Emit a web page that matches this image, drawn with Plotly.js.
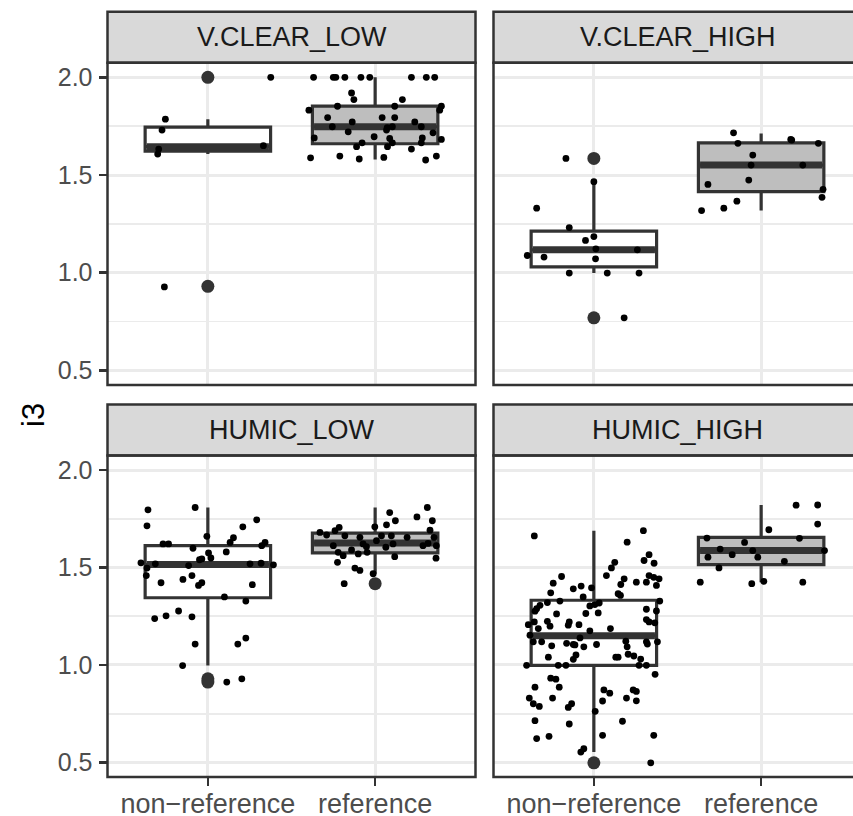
<!DOCTYPE html>
<html>
<head>
<meta charset="utf-8">
<script src="https://cdn.plot.ly/plotly-3.0.1.min.js"></script>
<style>html,body{margin:0;padding:0;background:#fff;}#chart{width:853px;height:816px;}</style>
</head>
<body>
<div id="chart"></div>
<script>
// ---------------- DATA ----------------
const categories = ['non\u2212reference', 'reference'];
const panelNames = ['V.CLEAR_LOW', 'V.CLEAR_HIGH', 'HUMIC_LOW', 'HUMIC_HIGH'];
const yTickVals = [0.5, 1.0, 1.5, 2.0];
const yTickText = ['0.5', '1.0', '1.5', '2.0'];

// box statistics per panel: [non-reference, reference]
const q1Vals     = [[1.622, 1.660], [1.030, 1.415], [1.345, 1.575], [0.998, 1.515]];
const medianVals = [[1.645, 1.747], [1.117, 1.551], [1.515, 1.626], [1.150, 1.587]];
const q3Vals     = [[1.745, 1.853], [1.213, 1.665], [1.612, 1.677], [1.332, 1.655]];
const lowVals    = [[1.607, 1.580], [0.998, 1.318], [0.997, 1.468], [0.553, 1.425]];
const highVals   = [[1.786, 2.000], [1.466, 1.713], [1.808, 1.808], [1.689, 1.821]];
const outlierVals = [[[2.0, 0.93], []], [[1.585, 0.769], []], [[0.929, 0.912], [1.417]], [[0.498], []]];

// jittered observations: values and horizontal jitter offsets
const vclLowNonY = [1.786, 1.73, 1.633, 1.607, 1.65, 2.0, 0.927];
const vclLowNonJ = [-0.254, -0.274, -0.294, -0.30, 0.332, 0.376, -0.26];
const vclLowRefY = [2.0,2.0,2.0,2.0,2.0,2.0,2.0,2.0,2.0,1.92,1.886,1.886,1.852,1.852,1.852,1.832,1.832,1.794,1.794,1.794,1.772,1.772,1.747,1.742,1.747,1.747,1.721,1.73,1.716,1.69,1.696,1.687,1.69,1.682,1.665,1.665,1.665,1.645,1.645,1.633,1.588,1.597,1.582,1.59,1.577,1.597];
const vclLowRefJ = [-0.368,-0.250,-0.235,-0.181,-0.085,-0.032,0.217,0.306,0.356,-0.141,-0.127,0.163,-0.225,0.117,0.396,-0.396,0.386,-0.284,0.042,0.117,-0.137,0.237,-0.256,0.072,0.103,0.276,-0.161,0.068,0.346,-0.364,-0.006,0.087,0.282,0.396,0.103,0.276,-0.078,-0.111,0.074,0.217,-0.386,-0.211,-0.095,0.052,0.302,0.366];

const vclHighNonY = [1.585,1.466,1.33,1.231,1.185,1.165,1.122,1.117,1.088,1.08,1.071,0.998,0.998,0.998,0.769];
const vclHighNonJ = [-0.167,0,-0.342,-0.147,0,-0.05,0.012,0.26,-0.398,-0.298,0.01,-0.147,0.08,0.27,0.181];
const vclHighRefY = [1.716,1.662,1.679,1.682,1.662,1.602,1.551,1.551,1.452,1.474,1.427,1.386,1.366,1.33,1.318];
const vclHighRefJ = [-0.165,-0.139,0.183,0.177,0.342,-0.05,-0.06,0.249,-0.318,-0.074,0.37,0.364,-0.145,-0.223,-0.356];

const humLowNonY = [1.796,1.808,1.714,1.745,1.709,1.66,1.653,1.629,1.621,1.621,1.629,1.612,1.599,1.58,1.575,1.544,1.54,1.549,1.524,1.519,1.51,1.519,1.522,1.514,1.497,1.459,1.459,1.439,1.422,1.422,1.408,1.412,1.349,1.328,1.238,1.252,1.277,1.247,1.107,1.107,1.138,0.997,0.912,0.929];
const humLowNonJ = [-0.358,-0.076,-0.364,0.292,0.209,-0.006,0.153,0.133,-0.268,-0.235,0.342,0.322,-0.089,0.11,0.004,-0.036,-0.05,0.018,-0.4,-0.314,-0.115,0.252,0.318,0.392,-0.364,-0.368,-0.095,-0.149,-0.28,-0.036,-0.056,0.266,0.099,0.227,-0.318,-0.25,-0.175,-0.095,-0.076,0.179,0.227,-0.151,0.113,0.203];
const humLowRefY = [1.808,1.782,1.76,1.74,1.74,1.719,1.709,1.706,1.689,1.692,1.68,1.667,1.663,1.655,1.663,1.663,1.655,1.655,1.612,1.59,1.621,1.607,1.638,1.604,1.621,1.612,1.624,1.612,1.578,1.561,1.57,1.578,1.556,1.548,1.527,1.497,1.485,1.468,1.417];
const humLowRefJ = [0.312,0.087,0.25,0.342,0.121,0.068,-0.002,-0.215,-0.24,0.328,-0.33,-0.29,-0.181,-0.091,0.038,0.097,0.191,0.352,-0.25,-0.141,-0.072,-0.052,0.008,0.064,0.107,0.286,0.316,0.366,-0.221,-0.191,-0.101,-0.048,0.117,0.364,-0.225,-0.121,-0.091,-0.012,-0.185];

const humHighNonY = [1.662,1.689,1.63,1.566,1.536,1.522,1.527,1.498,1.459,1.454,1.42,1.391,1.405,1.396,1.442,1.413,1.425,1.425,1.459,1.45,1.442,1.408,1.37,1.349,1.366,1.357,1.328,1.32,1.328,1.318,1.303,1.31,1.306,1.289,1.276,1.262,1.264,1.267,1.286,1.277,1.233,1.221,1.216,1.224,1.207,1.221,1.199,1.221,1.204,1.207,1.187,1.175,1.187,1.139,1.153,1.119,1.119,1.111,1.105,1.105,1.122,1.119,1.119,1.098,1.103,1.093,1.093,1.107,1.04,1.051,1.029,1.04,1.04,1.055,1.046,1.03,0.998,0.998,0.998,0.998,0.998,0.952,0.932,0.927,0.886,0.886,0.872,0.855,0.872,0.864,0.83,0.83,0.83,0.816,0.815,0.801,0.787,0.801,0.782,0.762,0.714,0.697,0.711,0.622,0.634,0.639,0.639,0.57,0.553,0.498];
const humHighNonJ = [-0.356,0.296,0.199,0.33,0.3,0.36,0.125,0.105,0.075,-0.193,-0.243,-0.123,-0.076,-0.014,0.181,0.161,0.254,0.314,0.33,0.358,0.39,0.374,-0.258,-0.064,0.145,0.159,-0.203,-0.278,0.394,0.032,-0.024,0.006,-0.322,-0.342,-0.352,-0.223,-0.048,0.026,0.314,0.374,0.314,0.33,0.364,-0.278,-0.392,-0.356,-0.262,-0.147,-0.153,-0.089,-0.332,-0.024,0.099,-0.083,-0.382,-0.362,-0.312,-0.163,-0.123,0.016,0.191,0.314,0.38,-0.252,-0.113,-0.06,0.199,0.32,-0.272,-0.107,-0.123,0.131,0.145,0.205,0.239,0.28,-0.402,-0.213,-0.167,0.27,0.314,0.366,-0.258,-0.227,-0.207,-0.352,0.06,0.095,0.235,0.254,-0.386,-0.247,0.195,0.254,0.052,-0.362,-0.326,-0.133,-0.153,0.008,-0.352,-0.147,0.171,-0.342,-0.268,0.052,0.358,-0.06,-0.078,0.34];
const humHighRefY = [1.82,1.821,1.723,1.694,1.65,1.651,1.629,1.595,1.566,1.587,1.587,1.553,1.553,1.532,1.498,1.425,1.417,1.429,1.425];
const humHighRefJ = [0.209,0.338,0.338,0.046,0.229,-0.324,-0.099,-0.245,-0.173,-0.05,0.379,-0.318,-0.02,0.139,-0.252,-0.364,-0.056,0.016,0.249];

const pointY = [[vclLowNonY, vclLowRefY], [vclHighNonY, vclHighRefY], [humLowNonY, humLowRefY], [humHighNonY, humHighRefY]];
const pointJ = [[vclLowNonJ, vclLowRefJ], [vclHighNonJ, vclHighRefJ], [humLowNonJ, humLowRefJ], [humHighNonJ, humHighRefJ]];

// ---------------- STYLE / LAYOUT ----------------
const W = 853, H = 816;
const boxWidth = 0.75;
const boxFill = ['#FFFFFF', '#BEBEBE'];
const ink = '#333333';
const gridCol = '#EBEBEB';
const FONT = 'Liberation Sans, Arial, sans-serif';

const leftPx = [107.5, 475.5], rightStart = 493.5;
const topPx = [62.7, 385], botPx = [455.5, 777];
const stripH = 51;
const pxPerUnit = (leftPx[1] - leftPx[0]) / 2.2;
const rightRangeMax = 0.4 + (W - rightStart) / pxPerUnit;

const xDomL = [leftPx[0] / W, leftPx[1] / W];
const xDomR = [rightStart / W, 1];
const yDomT = [(H - topPx[1]) / H, (H - topPx[0]) / H];
const yDomB = [(H - botPx[1]) / H, (H - botPx[0]) / H];

const axisIds = [['x', 'y'], ['x2', 'y2'], ['x3', 'y3'], ['x4', 'y4']];
const traces = [];

for (let p = 0; p < 4; p++) {
  const [xa, ya] = axisIds[p];
  for (let c = 0; c < 2; c++) {
    const pos = c + 1;
    traces.push({
      type: 'box', xaxis: xa, yaxis: ya,
      x: [pos], q1: [q1Vals[p][c]], median: [medianVals[p][c]], q3: [q3Vals[p][c]],
      lowerfence: [lowVals[p][c]], upperfence: [highVals[p][c]],
      width: boxWidth, whiskerwidth: 0, boxpoints: false,
      fillcolor: boxFill[c], line: { color: ink, width: 3.2 },
      hoverinfo: 'skip'
    });
    traces.push({
      type: 'scatter', mode: 'lines', xaxis: xa, yaxis: ya,
      x: [pos - boxWidth / 2 + 0.01, pos + boxWidth / 2 - 0.01],
      y: [medianVals[p][c], medianVals[p][c]],
      line: { color: ink, width: 7 }, hoverinfo: 'skip'
    });
    if (outlierVals[p][c].length) {
      traces.push({
        type: 'scatter', mode: 'markers', xaxis: xa, yaxis: ya,
        x: outlierVals[p][c].map(() => pos), y: outlierVals[p][c],
        marker: { color: ink, size: 13 }, hoverinfo: 'skip'
      });
    }
    traces.push({
      type: 'scatter', mode: 'markers', xaxis: xa, yaxis: ya,
      x: pointJ[p][c].map(j => pos + j), y: pointY[p][c],
      marker: { color: '#000000', size: 6.8 }, hoverinfo: 'skip'
    });
  }
}

function xAxis(domain, anchor, range, showLabels) {
  return {
    domain: domain, anchor: anchor, range: range, type: 'linear',
    tickvals: [1, 2], ticktext: categories, showticklabels: showLabels,
    ticks: showLabels ? 'outside' : '', ticklen: 8, tickwidth: 2.5, tickcolor: ink,
    ticklabelstandoff: -5,
    tickfont: { family: FONT, size: 27, color: '#4D4D4D' },
    showgrid: true, gridcolor: gridCol, gridwidth: 3,
    zeroline: false, showline: false, fixedrange: true
  };
}
function yAxis(domain, anchor, showLabels) {
  return {
    domain: domain, anchor: anchor, range: [0.425, 2.075],
    tickvals: yTickVals, ticktext: yTickText, showticklabels: showLabels,
    ticks: showLabels ? 'outside' : '', ticklen: 8, tickwidth: 2.5, tickcolor: ink,
    ticklabelstandoff: 1,
    tickfont: { family: FONT, size: 25, color: '#4D4D4D' },
    showgrid: true, gridcolor: gridCol, gridwidth: 3,
    minor: { dtick: 0.25, tick0: 0.5, showgrid: true, gridcolor: gridCol, gridwidth: 1.8, ticks: '' },
    zeroline: false, showline: false, fixedrange: true
  };
}

const shapes = [], annotations = [];
const stripFrac = [stripH / (topPx[1] - topPx[0]), stripH / (botPx[1] - botPx[0])];
for (let p = 0; p < 4; p++) {
  const [xa, ya] = axisIds[p];
  const isRight = (p % 2 === 1);
  const sf = stripFrac[p < 2 ? 0 : 1];
  const xEnd = isRight ? 1.1 : 1;
  const fullFrac = isRight ? (2.2 / (rightRangeMax - 0.4)) : 1;
  shapes.push({ type: 'rect', xref: xa + ' domain', yref: ya + ' domain', x0: 0, x1: xEnd, y0: 1, y1: 1 + sf,
    fillcolor: '#D9D9D9', line: { color: ink, width: 2.5 }, layer: 'above' });
  shapes.push({ type: 'rect', xref: xa + ' domain', yref: ya + ' domain', x0: 0, x1: xEnd, y0: 0, y1: 1,
    fillcolor: 'rgba(0,0,0,0)', line: { color: ink, width: 2.5 }, layer: 'above' });
  annotations.push({ xref: xa + ' domain', yref: ya + ' domain', x: fullFrac / 2, y: 1 + sf / 2,
    xanchor: 'center', yanchor: 'middle', showarrow: false, text: panelNames[p],
    font: { family: FONT, size: 27, color: '#1A1A1A' } });
}
annotations.push({ xref: 'paper', yref: 'paper', x: 33 / W, y: (H - 415) / H, xanchor: 'center', yanchor: 'middle',
  showarrow: false, text: 'i3', textangle: -90, font: { family: FONT, size: 31, color: '#000000' } });

const layout = {
  width: W, height: H, margin: { l: 0, r: 0, t: 0, b: 0 },
  paper_bgcolor: '#FFFFFF', plot_bgcolor: '#FFFFFF', showlegend: false,
  boxmode: 'overlay',
  xaxis: xAxis(xDomL, 'y', [0.4, 2.6], false),
  xaxis2: xAxis(xDomR, 'y2', [0.4, rightRangeMax], false),
  xaxis3: xAxis(xDomL, 'y3', [0.4, 2.6], true),
  xaxis4: xAxis(xDomR, 'y4', [0.4, rightRangeMax], true),
  yaxis: yAxis(yDomT, 'x', true),
  yaxis2: yAxis(yDomT, 'x2', false),
  yaxis3: yAxis(yDomB, 'x3', true),
  yaxis4: yAxis(yDomB, 'x4', false),
  shapes: shapes, annotations: annotations
};

Plotly.newPlot('chart', traces, layout, { staticPlot: true, displayModeBar: false });
</script>
</body>
</html>
